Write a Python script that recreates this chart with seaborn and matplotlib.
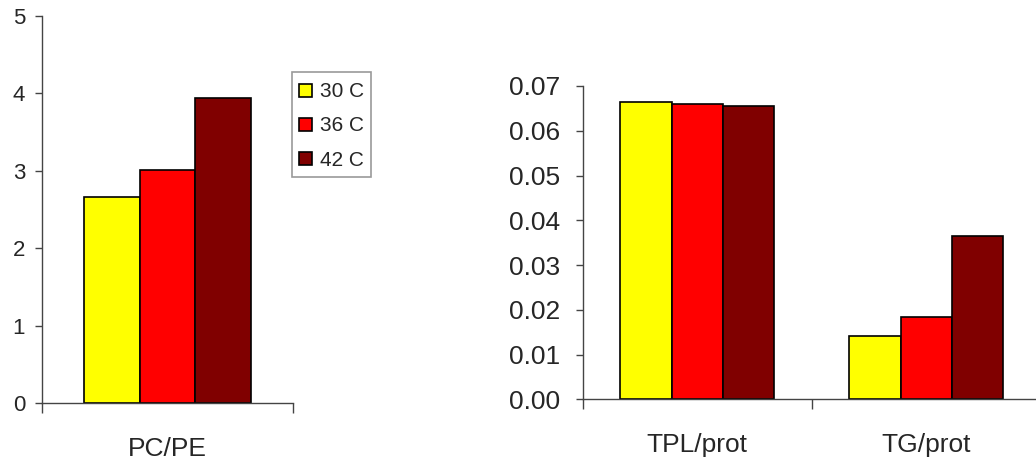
import pandas as pd
import matplotlib
matplotlib.use("Agg")
import matplotlib.pyplot as plt
from matplotlib.patches import Patch, Rectangle
from matplotlib.legend_handler import HandlerPatch
import seaborn as sns

# data
temps = ["30 C", "36 C", "42 C"]
colors = ["#FFFF00", "#FF0000", "#800000"]

left_cats = ["PC/PE"]
pc_pe = [2.66, 3.01, 3.945]

right_cats = ["TPL/prot", "TG/prot"]
tpl_prot = [0.0664, 0.0660, 0.0656]
tg_prot = [0.0141, 0.0184, 0.0365]

left_ticks = [0, 1, 2, 3, 4, 5]
right_ticks = [0.00, 0.01, 0.02, 0.03, 0.04, 0.05, 0.06, 0.07]


def long_table(cats, series):
    rows = []
    for cat, vals in zip(cats, series):
        for t, v in zip(temps, vals):
            rows.append({"ratio": cat, "temp": t, "value": v})
    return pd.DataFrame(rows)


def style_axis(ax, tick_size, ylab_pad):
    sns.despine(ax=ax)
    for side in ["left", "bottom"]:
        ax.spines[side].set_color("#444444")
        ax.spines[side].set_linewidth(1.0)
    ax.set_xlabel("")
    ax.set_ylabel("")
    ax.tick_params(axis="y", direction="out", length=5, width=1.0,
                   color="#444444", labelsize=tick_size, pad=ylab_pad, left=True)
    ax.tick_params(axis="x", which="major", length=0, labelsize=19, pad=24)
    ax.tick_params(axis="x", which="minor", direction="out", length=7,
                   width=1.0, color="#444444", bottom=True)


# small square legend keys inside a taller row
def square_key(legend, orig_handle, xdescent, ydescent, width, height, fontsize):
    side = 13 * 72 / 100
    return Rectangle((width - xdescent - side, -ydescent + (height - side) / 2),
                     side, side)


sns.set_style("white")
plt.rcParams["font.family"] = ["Liberation Sans", "DejaVu Sans"]

fig = plt.figure(figsize=(10.36, 4.59), dpi=100)

# left panel: PC/PE
ax1 = fig.add_axes([0.04025, 0.12135, 0.24286, 0.84379])
df1 = long_table(left_cats, [pc_pe])
sns.barplot(data=df1, x="ratio", y="value", hue="temp", palette=colors,
            saturation=1, width=0.665, edgecolor="black", linewidth=1.2,
            legend=False, errorbar=None, ax=ax1)
ax1.set_xlim(-0.5, 0.5)
ax1.set_ylim(0, 5)
ax1.set_yticks(left_ticks)
ax1.set_yticklabels([str(t) for t in left_ticks])
ax1.set_xticks([-0.5, 0.5], minor=True)
style_axis(ax1, 16, 7)

# right panel: TPL/prot, TG/prot
ax2 = fig.add_axes([0.56245, 0.13007, 0.43755, 0.68257])
df2 = long_table(right_cats, [tpl_prot, tg_prot])
sns.barplot(data=df2, x="ratio", y="value", hue="temp", palette=colors,
            saturation=1, width=0.67, edgecolor="black", linewidth=1.2,
            legend=False, errorbar=None, ax=ax2)
ax2.set_xlim(-0.5, 1.48)
ax2.set_ylim(0, 0.07)
ax2.set_yticks(right_ticks)
ax2.set_yticklabels([f"{t:.2f}" for t in right_ticks])
ax2.set_xticks([-0.5, 0.5], minor=True)
style_axis(ax2, 19, 11)

handles = [Patch(facecolor=c, edgecolor="black", linewidth=1.2) for c in colors]
leg = fig.legend(handles, temps, loc="upper left",
                 bbox_to_anchor=(291.7 / 1036, 1 - 71.7 / 459),
                 handler_map={Patch: HandlerPatch(patch_func=square_key)},
                 fontsize=15, frameon=True, fancybox=False,
                 borderpad=0.35, handlelength=0.62, handleheight=1.3,
                 handletextpad=0.38, labelspacing=0.55, borderaxespad=0)
leg.get_frame().set_edgecolor("#808080")
leg.get_frame().set_linewidth(1.2)

fig.savefig("out.png", dpi=100)
